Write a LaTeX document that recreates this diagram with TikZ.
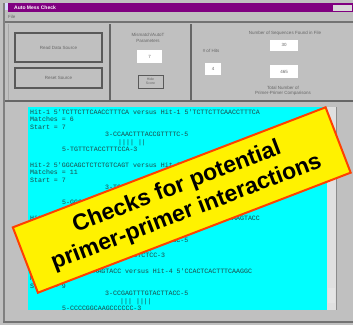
\documentclass[tikz,border=0pt]{standalone}
\usepackage{fontspec}
\setmainfont{Liberation Sans}
\newfontfamily\seqfont{Liberation Mono}
\usetikzlibrary{positioning}

\definecolor{wingray}{RGB}{192,192,192}
\definecolor{winpurple}{RGB}{128,0,128}
\definecolor{wincyan}{RGB}{0,255,255}
\definecolor{seqtext}{RGB}{30,70,70}
\definecolor{bannerred}{RGB}{255,64,0}

\begin{document}
\begin{tikzpicture}[x=1pt,y=-1pt,
  winbutton/.style={draw=black!65,line width=1.2,fill=wingray,inner sep=0,font=\fontsize{4.5}{5}\selectfont,text=black!60,align=center},
  winfield/.style={fill=white,inner sep=0,font=\fontsize{4.5}{5}\selectfont,text=black!60},
  winlabel/.style={inner sep=0,font=\fontsize{4.5}{5.5}\selectfont,text=black!60,align=center},
  seqline/.style={anchor=base west,inner sep=0,font=\seqfont\fontsize{6.6}{7}\selectfont,text=seqtext},
  banner/.style={draw=bannerred,line width=2,fill=yellow,rotate=21,minimum width=335,minimum height=70,inner sep=0,align=center,font=\bfseries\fontsize{23}{27}\selectfont}]
  \useasboundingbox (0,0) rectangle (353,325);
  \fill[wingray] (0,0) rectangle (353,325);
  % window frame
  \fill[winpurple] (8,3) rectangle (353,12);
  \fill[blue!15] (3,3) rectangle (8,10);
  \fill[wingray!60!white] (333,5) rectangle (352,11);
  \node[anchor=west,inner sep=0,text=white,font=\bfseries\fontsize{5}{5}\selectfont] (title) at (14,7.5) {Auto Mess Check};
  \node[winlabel,anchor=west] (menu) at (8,16.5) {File};
  \fill[black!55] (5,21) rectangle (353,23);
  \fill[black!50] (3,3) rectangle (5,323);
  \fill[black!55] (3,321) rectangle (353,323);
  \draw[black!35] (8,24) -- (8,100);
  \draw[black!60,line width=2] (110,24) -- (110,100);
  \draw[black!60,line width=2] (191,24) -- (191,100);
  \draw[black!60,line width=2.5] (5,101) -- (353,101);

  % controls
  \node[winbutton,minimum width=87,minimum height=29] (readbtn) at (58.5,47.5) {Read Data Source};
  \node[winbutton,minimum width=87,minimum height=20] (resetbtn) at (58.5,78) {Reset Source};
  \node[winlabel] (mislabel) at (148,38) {Mismatch/AutoT\\Parameters};
  \node[winfield,minimum width=25,minimum height=13] (spin) at (149.5,56.5) {7};
  \node[winbutton,line width=0.6,minimum width=25,minimum height=13,font=\fontsize{3.5}{4}\selectfont] (hidebtn) at (150.5,81.5) {Hide\\Score};
  \node[winlabel] (seqlabel) at (285,33) {Number of Sequences Found in File};
  \node[winfield,minimum width=28,minimum height=11] (seqcount) at (284,45) {30};
  \node[winlabel] (hitlabel) at (211,51) {\# of Hits};
  \node[winfield,minimum width=16,minimum height=12] (hitcount) at (213,69) {4};
  \node[winfield,minimum width=28,minimum height=13] (compcount) at (284,71.5) {465};
  \node[winlabel] (complabel) at (283,91) {Total Number of\\Primer-Primer Comparisons};

  % output pane
  \fill[wincyan] (28,107) rectangle (327,310);
  \fill[black!12] (327,107) rectangle (337,310);
  \draw[black!45,line width=1] (336,107) -- (336,310);
  \fill[white!90!black] (328,288) rectangle (335,303);
  \begin{scope}
    \clip (28,107) rectangle (327,310);
    \foreach \xx/\yy/\txt [count=\i] in {
      30/114/Hit-1 5'TCTTCTTCAACCTTTCA versus Hit-1 5'TCTTCTTCAACCTTTCA,
      30/121.5/Matches = 6,
      30/129/Start = 7,
      105/136.5/3-CCAACTTTACCGTTTTC-5,
      118/144/|||| ||,
      62/151.5/5-TGTTCTACCTTTCCA-3,
      30/167/Hit-2 5'GGCAGCTCTCTGTCAGT versus Hit-3 5'CTGACTGTCAGGCAGCT,
      30/174.5/Matches = 11,
      30/182/Start = 7,
      105/189.5/3-TCGACGGACTGTCAGAG-5,
      120/197/||| ||||,
      62/204.5/5-GGCAGCTCTCTGTCAGTCT-3,
      30/220/Hit-3 5'ACTCCTTCAAGTACCTCCT versus Hit-3 5'ACTCCTTCAAGTACC,
      30/227.5/Matches = 8,
      30/235/Start = 5,
      105/242.5/3-CCATGAACTTCCTTTCC-5,
      125/250/||| |||,
      62/257.5/5-ACTCCTTCAAGTACCTCTCTCC-3,
      30/273/Hit-3 5'ACTCCTTCAAGTACC versus Hit-4 5'CCACTCACTTTCAAGGC,
      30/280.5/Matches = 7,
      30/288/Start = 9,
      105/295.5/3-CCGAGTTTGTACTTACC-5,
      120/303/||| ||||,
      62/310.5/5-CCCCGGCAAGCCCCCC-3}
      \node[seqline] (seq\i) at (\xx,\yy) {\txt};
  \end{scope}

  % callout
  \node[banner] (callout) at (181.75,200) {Checks for potential\\primer-primer interactions};
\end{tikzpicture}
\end{document}
